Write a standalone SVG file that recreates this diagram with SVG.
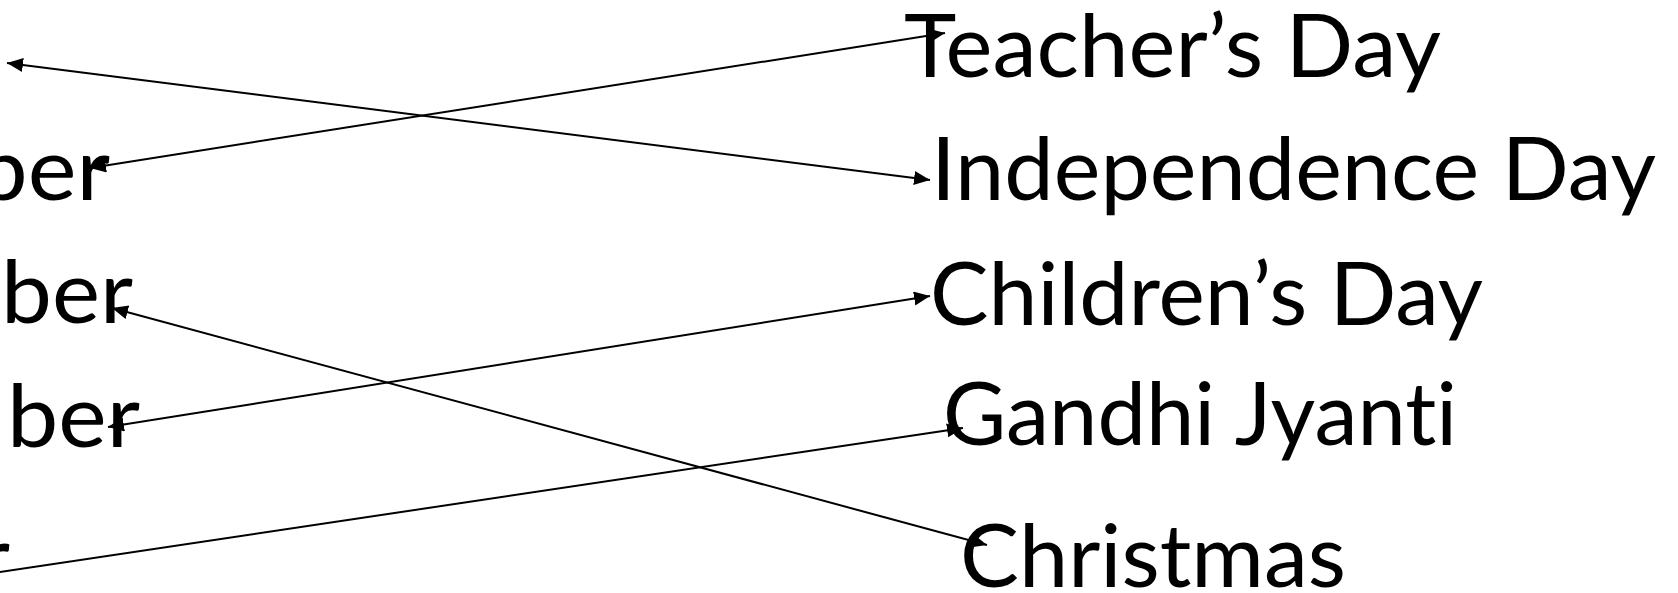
<svg xmlns="http://www.w3.org/2000/svg" width="1678" height="593" viewBox="0 0 1678 593">
  <style>
    .lbl { font-family: Lato, "Open Sans", "Liberation Sans", sans-serif; font-size: 87px; fill: #000; font-variant-ligatures: none; font-feature-settings: "liga" 0, "clig" 0; }
    .conn { stroke: #000; stroke-width: 2; fill: none; }
  </style>
  <defs>
    <marker id="arr" markerUnits="userSpaceOnUse" markerWidth="17" markerHeight="15" refX="16" refY="7" orient="auto-start-reverse">
      <path d="M0,0 L16,7 L0,14 z" fill="#000"/>
    </marker>
  </defs>
  <rect width="1678" height="593" fill="#fff"/>

  <g id="left-nodes">
    <g id="left-2"><text class="lbl" x="-24" y="200" textLength="134" lengthAdjust="spacingAndGlyphs">ber</text></g>
    <g id="left-3"><text class="lbl" x="1" y="323" textLength="132" lengthAdjust="spacingAndGlyphs">ber</text></g>
    <g id="left-4"><text class="lbl" x="7" y="447" textLength="133" lengthAdjust="spacingAndGlyphs">ber</text></g>
    <g id="left-5"><text class="lbl" x="-21" y="588" textLength="31" lengthAdjust="spacingAndGlyphs">r</text></g>
  </g>

  <g id="right-nodes">
    <g id="teachers-day"><text class="lbl" x="904" y="77" textLength="537" lengthAdjust="spacingAndGlyphs">Teacher’s Day</text></g>
    <g id="independence-day"><text class="lbl" x="931" y="200" textLength="725" lengthAdjust="spacingAndGlyphs">Independence Day</text></g>
    <g id="childrens-day"><text class="lbl" x="930" y="325" textLength="553" lengthAdjust="spacingAndGlyphs">Children’s Day</text></g>
    <g id="gandhi-jyanti"><text class="lbl" x="943" y="445" textLength="514" lengthAdjust="spacingAndGlyphs">Gandhi Jyanti</text></g>
    <g id="christmas"><text class="lbl" x="960" y="587" textLength="386" lengthAdjust="spacingAndGlyphs">Christmas</text></g>
  </g>

  <g id="connectors">
    <line class="conn" x1="7" y1="63" x2="930" y2="180" marker-start="url(#arr)" marker-end="url(#arr)"/>
    <line class="conn" x1="90" y1="168" x2="945" y2="33" marker-start="url(#arr)" marker-end="url(#arr)"/>
    <line class="conn" x1="112" y1="308" x2="987" y2="545" marker-start="url(#arr)" marker-end="url(#arr)"/>
    <line class="conn" x1="108" y1="427" x2="930" y2="296" marker-start="url(#arr)" marker-end="url(#arr)"/>
    <line class="conn" x1="-2" y1="572.3" x2="963" y2="428" marker-end="url(#arr)"/>
  </g>
</svg>
